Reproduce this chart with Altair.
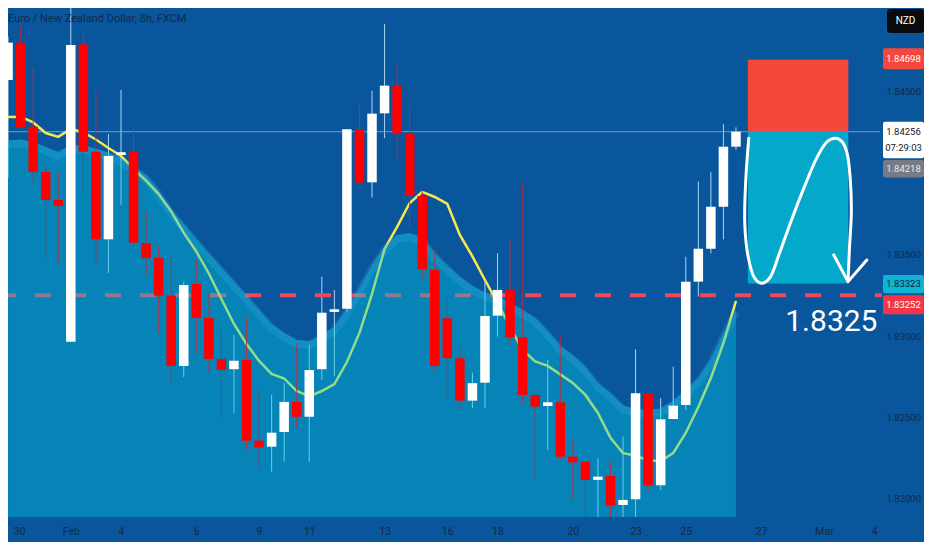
import altair as alt
import pandas as pd

# ---------------- data ----------------
title_text = "Euro / New Zealand Dollar, 8h, FXCM"
currency = "NZD"

# 8h candles, index 0 = first bar of Jan 30
opens = [1.84574, 1.84803, 1.84287, 1.84009, 1.83837, 1.82966, 1.84793, 1.84133, 1.83595, 1.84113,
         1.84133, 1.83572, 1.83480, 1.83249, 1.82817, 1.83321, 1.83112, 1.82860, 1.82797, 1.82854,
         1.82358, 1.82321, 1.82411, 1.82596, 1.82505, 1.82797, 1.83149, 1.83169, 1.84271, 1.83945,
         1.84369, 1.84539, 1.84242, 1.83861, 1.83407, 1.83110, 1.82864, 1.82604, 1.82714, 1.83126,
         1.83284, 1.82993, 1.82639, 1.82571, 1.82594, 1.82260, 1.82229, 1.82117, 1.82141, 1.81963,
         1.81998, 1.82649, 1.82084, 1.82491, 1.82577, 1.83335, 1.83537, 1.83795, 1.84164]
closes = [1.84803, 1.84283, 1.84010, 1.83837, 1.83800, 1.84789, 1.84133, 1.83595, 1.84107, 1.84130,
          1.83574, 1.83480, 1.83249, 1.82817, 1.83314, 1.83112, 1.82860, 1.82792, 1.82849, 1.82358,
          1.82317, 1.82407, 1.82596, 1.82505, 1.82792, 1.83144, 1.83165, 1.84271, 1.83943, 1.84367,
          1.84539, 1.84242, 1.83861, 1.83411, 1.82817, 1.82864, 1.82604, 1.82711, 1.83124, 1.83284,
          1.82993, 1.82639, 1.82567, 1.82594, 1.82260, 1.82225, 1.82117, 1.82137, 1.81961, 1.81994,
          1.82649, 1.82084, 1.82489, 1.82573, 1.83335, 1.83537, 1.83795, 1.84164, 1.84256]
highs = [1.84840, 1.84905, 1.84647, 1.84052, 1.84009, 1.85070, 1.84870, 1.84502, 1.84242, 1.84512,
         1.84279, 1.83765, 1.83560, 1.83488, 1.83335, 1.83468, 1.83265, 1.83038, 1.83007, 1.83120,
         1.82669, 1.82639, 1.82712, 1.82958, 1.82946, 1.83365, 1.83284, 1.84271, 1.84420, 1.84508,
         1.84918, 1.84666, 1.84414, 1.83898, 1.83529, 1.83233, 1.82927, 1.82776, 1.83335, 1.83509,
         1.83591, 1.83939, 1.82639, 1.82854, 1.83007, 1.82362, 1.82229, 1.82250, 1.82229, 1.82383,
         1.82919, 1.82649, 1.82618, 1.82813, 1.83488, 1.83949, 1.84010, 1.84303, 1.84283]
lows = [1.83972, 1.84283, 1.83941, 1.83468, 1.83450, 1.82966, 1.83880, 1.83450, 1.83388, 1.83806,
        1.83529, 1.83376, 1.83020, 1.82712, 1.82749, 1.82897, 1.82782, 1.82497, 1.82528, 1.82301,
        1.82190, 1.82168, 1.82229, 1.82436, 1.82229, 1.82731, 1.82755, 1.83150, 1.83943, 1.83851,
        1.84216, 1.84093, 1.83657, 1.83345, 1.82782, 1.82628, 1.82547, 1.82557, 1.82557, 1.82997,
        1.82946, 1.82588, 1.82117, 1.82301, 1.82239, 1.81994, 1.81891, 1.81870, 1.81870, 1.81870,
        1.81870, 1.82045, 1.82055, 1.82491, 1.82547, 1.83243, 1.83509, 1.83595, 1.84144]

# moving average line (one value per candle)
ma_line = [1.84346, 1.84348, 1.84313, 1.84248, 1.84224, 1.84273, 1.84251, 1.84208, 1.84156, 1.84107,
           1.84027, 1.83956, 1.83873, 1.83766, 1.83634, 1.83520, 1.83385, 1.83228, 1.83075, 1.82952,
           1.82848, 1.82768, 1.82740, 1.82663, 1.82630, 1.82663, 1.82706, 1.82841, 1.83020, 1.83259,
           1.83536, 1.83671, 1.83818, 1.83886, 1.83855, 1.83812, 1.83622, 1.83490, 1.83345, 1.83204,
           1.83056, 1.82915, 1.82845, 1.82817, 1.82765, 1.82712, 1.82639, 1.82528, 1.82375, 1.82281,
           1.82266, 1.82236, 1.82233, 1.82282, 1.82405, 1.82565, 1.82743, 1.82958, 1.83216]

# upper edge of the shaded cloud (one value per candle)
cloud_top = [1.84202, 1.84208, 1.84193, 1.84162, 1.84131, 1.84174, 1.84174, 1.84152, 1.84128, 1.84096,
             1.84045, 1.83990, 1.83895, 1.83778, 1.83689, 1.83597, 1.83508, 1.83422, 1.83336, 1.83250,
             1.83161, 1.83075, 1.83020, 1.82977, 1.82970, 1.83007, 1.83058, 1.83167, 1.83296, 1.83437,
             1.83554, 1.83622, 1.83634, 1.83606, 1.83511, 1.83434, 1.83364, 1.83308, 1.83268, 1.83247,
             1.83204, 1.83161, 1.83112, 1.83032, 1.82940, 1.82884, 1.82811, 1.82712, 1.82651, 1.82574,
             1.82553, 1.82547, 1.82556, 1.82602, 1.82669, 1.82743, 1.82860, 1.83020, 1.83173]

# time axis: candle index of each date label
tick_idx = [0, 5, 9, 15, 20, 24, 30, 35, 39, 45, 50, 54, 60, 65, 69]
tick_labels = ["30", "Feb", "4", "6", "9", "11", "13", "16", "18", "20", "23", "25", "27", "Mar", "4"]
price_ticks = [1.845, 1.835, 1.830, 1.825, 1.820]

# short position drawing
entry = 1.84256
stop = 1.84698
target = 1.83323
box_start = 58.95
box_end = 66.95
support_level = 1.83252
support_text = "1.8325"
support_text_at = (65.6, 1.83087)

# hand drawn wave + arrow (candle index, price)
wave_x = [59.02, 58.78, 58.70, 58.97, 59.49, 60.02, 60.67, 61.46, 62.52, 63.56, 64.49, 65.27,
          65.93, 66.45, 66.85, 67.11, 67.19, 67.05, 66.93]
wave_p = [1.84216, 1.83959, 1.83694, 1.83488, 1.83356, 1.83325, 1.83356, 1.83509, 1.83734, 1.83939,
          1.84103, 1.84195, 1.84216, 1.84195, 1.84124, 1.83959, 1.83755, 1.83550, 1.83345]
arrow_x = [65.79, 66.93, 68.42]
arrow_p = [1.83499, 1.83335, 1.83468]

# price tags on the right axis
tag_prices = [1.84698, 1.84256, 1.84218, 1.83323, 1.83252]
tag_texts = ["1.84698", "1.84256", "1.84218", "1.83323", "1.83252"]
countdown = "07:29:03"

# ---------------- build ----------------
# whole chart is 916 x 534 so it fits inside the page margin
W, H = 872, 509
BG = "#0a569c"
TXT = "#0f2a4a"
FONT = "Roboto"

y_lo, y_hi = 1.81889, 1.85016
xs = alt.Scale(domain=[0.394, 69.077], nice=False, zero=False)
ys = alt.Scale(domain=[y_lo, y_hi], nice=False, zero=False)

n = len(opens)
candles = pd.DataFrame({
    "i": list(range(n)), "open": opens, "close": closes, "high": highs, "low": lows,
    "ma": ma_line, "cloud": cloud_top,
})
candles["dir"] = ["up" if c >= o else "down" for o, c in zip(opens, closes)]

label_expr = ("[" + ",".join("'%s'" % t for t in tick_labels) + "][indexof(["
              + ",".join(str(i) for i in tick_idx) + "], datum.value)]")

X = alt.X("i:Q", scale=xs,
          axis=alt.Axis(values=tick_idx, labelExpr=label_expr, ticks=False, domain=False,
                        grid=False, labelPadding=9, labelFontSize=10.5, labelColor=TXT,
                        labelFont=FONT, title=None, labelFlush=False, labelOverlap=False,
                        labelOffset={"expr": "datum.value == 0 ? 11 : 0"}))
Y = alt.Y("low:Q", scale=ys,
          axis=alt.Axis(orient="right", values=price_ticks, format=".5f", ticks=False,
                        domain=False, grid=False, labelPadding=6, labelFontSize=9.5,
                        labelColor=TXT, labelFont=FONT, title=None))

base = alt.Chart(candles)
one = pd.DataFrame({"t": [title_text], "c": [currency]})

last_line = alt.Chart(pd.DataFrame({"p": [entry]})).mark_rule(
    color="#7ab4ea", strokeWidth=1, opacity=0.8).encode(y=alt.Y("p:Q", scale=ys))

dashed = alt.Chart(pd.DataFrame({"p": [support_level]})).mark_rule(
    color="#f0465a", strokeWidth=4, strokeDash=[16, 19], strokeDashOffset=8).encode(
    y=alt.Y("p:Q", scale=ys), x=alt.value(0), x2=alt.value(W + 2))

ma = base.mark_line(color="#f8e94a", strokeWidth=2.5, clip=True).encode(
    x=alt.X("i:Q", scale=xs), y=alt.Y("ma:Q", scale=ys))

cloud = base.mark_area(color="#00c8e0", opacity=0.4, clip=True).encode(
    x=alt.X("i:Q", scale=xs), y=alt.Y("cloud:Q", scale=ys), y2=alt.datum(y_lo))

band = base.mark_line(color="#5fd0ff", opacity=0.15, strokeWidth=8, yOffset=4,
                      clip=True).encode(x=alt.X("i:Q", scale=xs), y=alt.Y("cloud:Q", scale=ys))

wick_up = base.transform_filter("datum.dir == 'up'").mark_rule(
    color="#a8d4f2", strokeWidth=1, clip=True).encode(
    x=X, y=Y, y2="high:Q")
wick_dn = base.transform_filter("datum.dir == 'down'").mark_rule(
    color="#b5303f", strokeWidth=1, opacity=0.9, clip=True).encode(
    x=alt.X("i:Q", scale=xs), y=alt.Y("low:Q", scale=ys), y2="high:Q")

bodies = base.mark_bar(size=9.5, clip=True).encode(
    x=alt.X("i:Q", scale=xs), y=alt.Y("open:Q", scale=ys), y2="close:Q",
    color=alt.Color("dir:N", scale=alt.Scale(domain=["up", "down"], range=["#ffffff", "#ff0000"]),
                    legend=None))

boxes = pd.DataFrame({"x0": [box_start, box_start], "x1": [box_end, box_end],
                      "p0": [entry, entry], "p1": [stop, target], "kind": ["risk", "reward"]})
pos = alt.Chart(boxes).mark_rect().encode(
    x=alt.X("x0:Q", scale=xs), x2="x1:Q", y=alt.Y("p0:Q", scale=ys), y2="p1:Q",
    color=alt.Color("kind:N", scale=alt.Scale(domain=["risk", "reward"],
                                              range=["#f5473b", "#04a8cb"]), legend=None))

wave = alt.Chart(pd.DataFrame({"x": wave_x, "p": wave_p, "k": list(range(len(wave_x)))})).mark_line(
    color="white", strokeWidth=3, interpolate="catmull-rom", strokeCap="round").encode(
    x=alt.X("x:Q", scale=xs), y=alt.Y("p:Q", scale=ys), order="k:Q")
arrow = alt.Chart(pd.DataFrame({"x": arrow_x, "p": arrow_p, "k": list(range(len(arrow_x)))})).mark_line(
    color="white", strokeWidth=3, strokeCap="round", strokeJoin="round").encode(
    x=alt.X("x:Q", scale=xs), y=alt.Y("p:Q", scale=ys), order="k:Q")

big_text = alt.Chart(pd.DataFrame({"x": [support_text_at[0]], "p": [support_text_at[1]],
                                   "t": [support_text]})).mark_text(
    color="white", fontSize=30, font=FONT, align="center", baseline="middle").encode(
    x=alt.X("x:Q", scale=xs), y=alt.Y("p:Q", scale=ys), text="t:N")

TAG_X0, TAG_X1, TAG_XC = 875, 916, 895.5


def tag(k, fill, color, top, bottom, dy, extra=None):
    df = pd.DataFrame({"p": [tag_prices[k]], "t": [tag_texts[k]]})
    c = alt.Chart(df)
    layers = [
        c.mark_rect(color=fill, yOffset=top, y2Offset=bottom, cornerRadius=2).encode(
            x=alt.value(TAG_X0), x2=alt.value(TAG_X1), y=alt.Y("p:Q", scale=ys), y2="p:Q"),
        c.mark_text(color=color, fontSize=9.5, font=FONT, align="center", baseline="middle",
                    dy=dy).encode(x=alt.value(TAG_XC), y=alt.Y("p:Q", scale=ys), text="t:N"),
    ]
    if extra is not None:
        df2 = pd.DataFrame({"p": [tag_prices[k]], "t": [extra]})
        layers.append(alt.Chart(df2).mark_text(color=color, fontSize=9.5, font=FONT,
                                               align="center", baseline="middle", dy=dy + 16).encode(
            x=alt.value(TAG_XC), y=alt.Y("p:Q", scale=ys), text="t:N"))
    return layers


tags = []
tags += tag(0, "#f5473b", "white", -11.5, 9.5, -1)
tags += tag(1, "#ffffff", "#131722", -10, 26.6, 0, countdown)
tags += tag(2, "#787b86", "#e6e8ee", 22, 39.5, 30.8)
tags += tag(3, "#0fb4d4", "#0b1a2e", -8.6, 9.7, 0.5)
tags += tag(4, "#f23645", "white", 0, 19, 9.5)

title = alt.Chart(one).mark_text(color=TXT, fontSize=11, font=FONT, align="left",
                                 baseline="middle").encode(
    x=alt.value(0), y=alt.value(11), text="t:N")
nzd_box = alt.Chart(one).mark_rect(color="#0b0b0d", cornerRadius=3).encode(
    x=alt.value(879), x2=alt.value(916), y=alt.value(1), y2=alt.value(25))
nzd_txt = alt.Chart(one).mark_text(color="white", fontSize=10, font=FONT, align="center",
                                   baseline="middle").encode(
    x=alt.value(897.5), y=alt.value(13), text="c:N")

chart = alt.layer(
    wick_up, last_line, dashed, ma, cloud, band, wick_dn, bodies,
    pos, wave, arrow, big_text, *tags, title, nzd_box, nzd_txt
).properties(
    width=W, height=H,
    autosize=alt.AutoSizeParams(type="none"),
    padding={"left": 0, "top": 0, "right": 44, "bottom": 25},
    background=BG,
).configure_view(stroke=None).resolve_scale(color="independent")

chart.save("out.html", embed_options={"renderer": "svg", "actions": False})
